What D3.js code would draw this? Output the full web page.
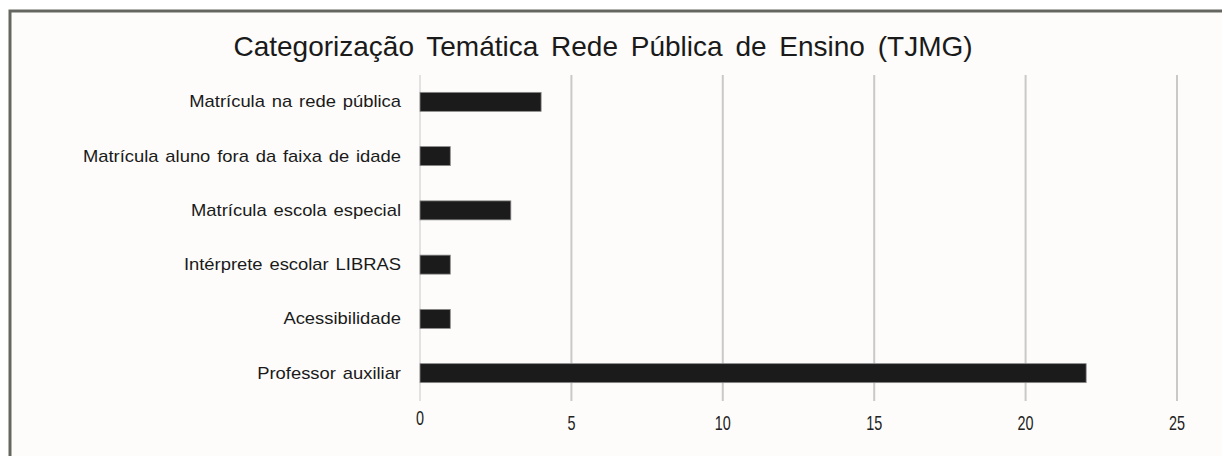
<!DOCTYPE html>
<html>
<head>
<meta charset="utf-8">
<script src="https://cdn.jsdelivr.net/npm/d3@7"></script>
<style>
  body { margin: 0; background: #fff; }
  svg { display: block; }
</style>
</head>
<body>
<svg id="chart"></svg>
<script>
const width = 1222;
const height = 456;

// data
const categories = [
  "Matrícula na rede pública",
  "Matrícula aluno fora da faixa de idade",
  "Matrícula escola especial",
  "Intérprete escolar LIBRAS",
  "Acessibilidade",
  "Professor auxiliar"
];
const values = [4, 1, 3, 1, 1, 22];
const tickValues = [0, 5, 10, 15, 20, 25];
const title = "Categorização Temática Rede Pública de Ensino (TJMG)";

const svg = d3.select("#chart")
  .attr("width", width)
  .attr("height", height);

// page background + frame
svg.append("rect")
  .attr("width", width).attr("height", height)
  .attr("fill", "#ffffff");
svg.append("rect")
  .attr("x", 10).attr("y", 11)
  .attr("width", width).attr("height", height)
  .attr("fill", "#fdfcfa")
  .attr("stroke", "#666661")
  .attr("stroke-width", 3);

const x = d3.scaleLinear()
  .domain([0, 25])
  .range([420, 1177]);

const y = d3.scaleBand()
  .domain(categories)
  .range([75, 400])
  .paddingInner(0.65)
  .paddingOuter(0.32);

// title
svg.append("text")
  .attr("x", 603)
  .attr("y", 56)
  .attr("text-anchor", "middle")
  .attr("font-family", "Liberation Sans, Arial, sans-serif")
  .attr("font-size", 28)
  .attr("fill", "#1a1a1a")
  .attr("word-spacing", 5)
  .text(title);

// gridlines
svg.append("g")
  .selectAll("line")
  .data(tickValues)
  .join("line")
  .attr("x1", d => x(d)).attr("x2", d => x(d))
  .attr("y1", 75).attr("y2", 401)
  .attr("stroke", d => d === 0 ? "#dadada" : "#c9c9c9")
  .attr("stroke-width", d => d === 0 ? 1.5 : 2);

// x tick labels (narrow, tall digits)
svg.append("g")
  .selectAll("text")
  .data(tickValues)
  .join("text")
  .attr("transform", d => `translate(${x(d)},${d === 0 ? 425 : 430}) scale(0.72,1)`)
  .attr("text-anchor", "middle")
  .attr("font-family", "Liberation Sans, Arial, sans-serif")
  .attr("font-size", 20)
  .attr("fill", "#222")
  .text(d => d);

// bars
svg.append("g")
  .selectAll("rect")
  .data(values)
  .join("rect")
  .attr("x", x(0))
  .attr("y", (d, i) => y(categories[i]))
  .attr("width", d => x(d) - x(0))
  .attr("height", y.bandwidth())
  .attr("fill", "#1b1b1b")
  .attr("stroke", "#8a8a8a")
  .attr("stroke-width", 0.8);

// category labels (slightly stretched like the original)
svg.append("g")
  .selectAll("text")
  .data(categories)
  .join("text")
  .attr("transform", d => `translate(401,${y(d) + y.bandwidth() / 2}) scale(1.15,1)`)
  .attr("dy", "0.35em")
  .attr("text-anchor", "end")
  .attr("font-family", "Liberation Sans, Arial, sans-serif")
  .attr("font-size", 16)
  .attr("word-spacing", 1.5)
  .attr("fill", "#1a1a1a")
  .text(d => d);
</script>
</body>
</html>
